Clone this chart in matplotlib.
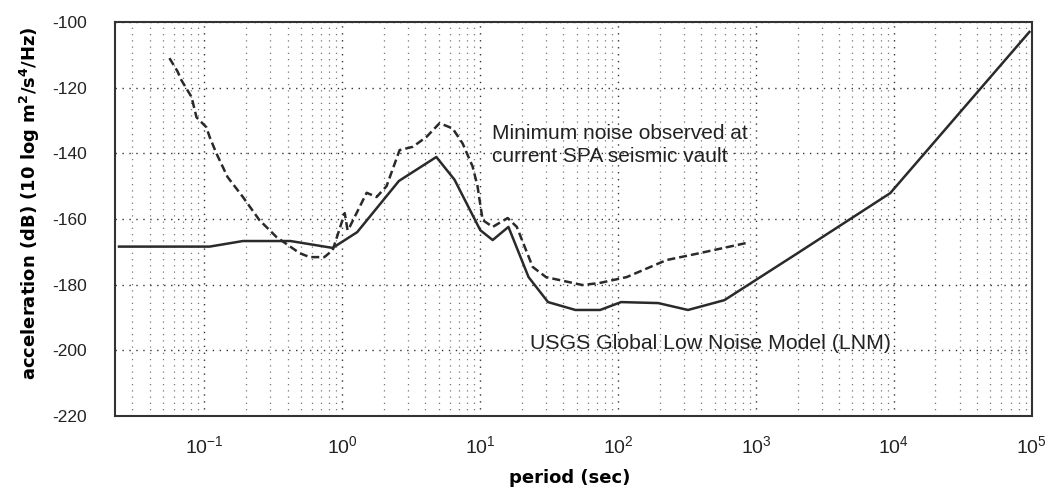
import matplotlib.pyplot as plt
from matplotlib.ticker import LogLocator, NullFormatter, FixedLocator
import numpy as np

plt.rcParams['font.family'] = ['Liberation Sans', 'DejaVu Sans']
plt.rcParams['mathtext.default'] = 'regular'
plt.rcParams['axes.unicode_minus'] = False

# USGS global low noise model
lnm_period = [0.024, 0.109, 0.19, 0.42, 0.85, 1.28, 2.57, 4.8, 6.5, 10, 12.3, 16,
              22.4, 31, 49, 74, 105, 195, 321, 590, 2000, 9400, 96000]
lnm_db = [-168.4, -168.4, -166.7, -166.7, -168.8, -164, -148.4, -141.1, -148, -163.4,
          -166.4, -162.4, -177.7, -185.3, -187.7, -187.7, -185.3, -185.6, -187.7,
          -184.7, -170.4, -152.1, -103]

# minimum noise observed at the SPA vault
obs_period = [0.0557, 0.0637, 0.068, 0.0805, 0.0875, 0.103, 0.109, 0.122, 0.147,
              0.19, 0.25, 0.333, 0.49, 0.58, 0.74, 0.85, 1.04, 1.09, 1.13, 1.5,
              1.77, 2.09, 2.6, 3.24, 4.07, 5.07, 6.3, 7.45, 8.8, 9.55, 10.4, 12.3,
              15.8, 18.4, 24, 30, 55, 73, 115, 224, 389, 850]
obs_db = [-111, -115, -117.7, -122.8, -129, -132, -135, -140, -147.2, -153.3, -160.3,
          -165.5, -170.4, -171.6, -171.6, -169.5, -158.2, -163.4, -162.4, -152,
          -153.3, -150, -139, -138, -135, -130.8, -132.4, -137, -144, -150, -160.3,
          -162.4, -159.7, -162.4, -174.6, -177.7, -180.1, -179.5, -177.7, -172.5,
          -170.4, -167.3]

x_ticks = [1e-1, 1e0, 1e1, 1e2, 1e3, 1e4, 1e5]
y_ticks = [-220, -200, -180, -160, -140, -120, -100]

fig = plt.figure(figsize=(10.54, 4.9), dpi=100)
ax = fig.add_axes([0.109, 0.151, 0.870, 0.804])

ax.plot(lnm_period, lnm_db, color='#2a2a2a', lw=1.8, solid_joinstyle='round')
ax.plot(obs_period, obs_db, color='#2a2a2a', lw=1.8, ls=(0, (3.2, 1.6)))

ax.set_xscale('log')
ax.set_xlim(0.0224, 1e5)
ax.set_ylim(-220, -100)
ax.set_yticks(y_ticks)
ax.xaxis.set_major_locator(FixedLocator(x_ticks))
ax.xaxis.set_minor_locator(LogLocator(base=10, subs=np.arange(2, 10), numticks=20))
ax.xaxis.set_minor_formatter(NullFormatter())

ax.grid(True, which='major', axis='y', color='#333333', lw=1.0, ls=(0, (1, 4)))
ax.grid(True, which='major', axis='x', color='#333333', lw=1.0, ls=(0, (1, 4)))
ax.grid(True, which='minor', axis='x', color='#777777', lw=0.9, ls=(0, (1, 4)))

ax.tick_params(which='both', length=0)
ax.tick_params(axis='y', pad=20, labelsize=12.5, labelcolor='#222222')
ax.tick_params(axis='x', pad=14, labelsize=14, labelcolor='#222222')
for s in ax.spines.values():
    s.set_color('#333333')
    s.set_linewidth(1.5)

fig.text(30 / 1054, 1 - 203 / 490, 'acceleration (dB) (10 log m$^2$/s$^4$/Hz)',
         rotation=90, ha='center', va='center', fontsize=13, fontweight='bold',
         family='DejaVu Sans')
fig.text(570 / 1054, 1 - 478 / 490, 'period (sec)', ha='center', va='center',
         fontsize=13, fontweight='bold', family='DejaVu Sans')

ax.text(12.1, -137.5, 'Minimum noise observed at\ncurrent SPA seismic vault',
        fontsize=15, color='#222222', va='center', ha='left', linespacing=1.3)
ax.text(23, -197.8, 'USGS Global Low Noise Model (LNM)', fontsize=15.3,
        color='#222222', va='center', ha='left')

fig.savefig('out.png', dpi=100)
